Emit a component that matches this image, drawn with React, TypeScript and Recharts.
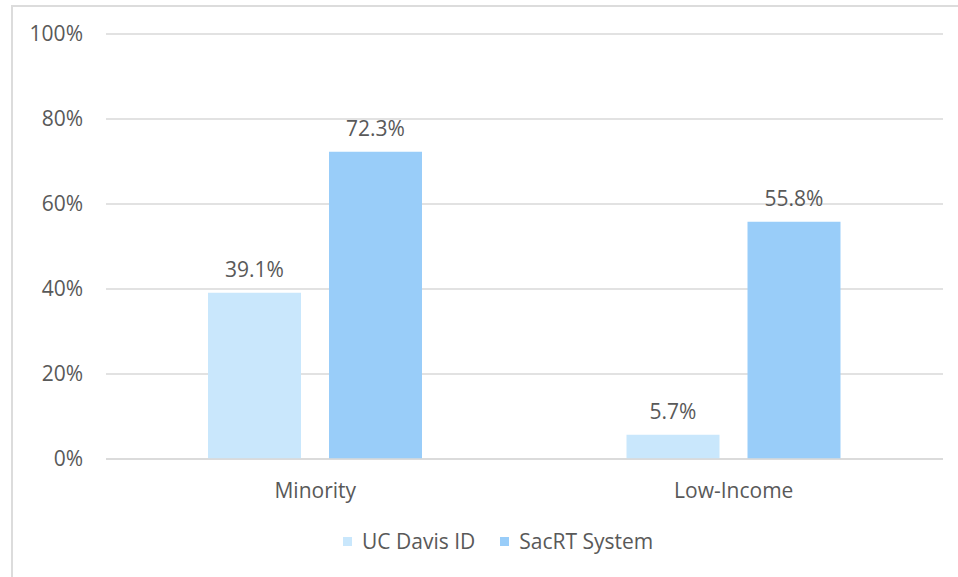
import { BarChart, Bar, XAxis, YAxis, CartesianGrid, Legend, LabelList } from 'recharts';

const categories = ['Minority', 'Low-Income'];
const ucDavisId = [39.1, 5.7];
const sacrtSystem = [72.3, 55.8];
const yTicks = [0, 20, 40, 60, 80, 100];

const series = [
  { key: 'ucDavis', name: 'UC Davis ID', color: '#c9e7fc' },
  { key: 'sacrt', name: 'SacRT System', color: '#99cdf9' },
];

const data = categories.map((name, i) => ({
  name,
  ucDavis: ucDavisId[i],
  sacrt: sacrtSystem[i],
}));

const FONT = '"Open Sans", sans-serif';
const TEXT = '#595959';
const FS = 21;

const LegendContent = () => (
  <div style={{ display: 'flex', alignItems: 'center', fontFamily: FONT, fontSize: FS, color: TEXT, lineHeight: '27px' }}>
    {series.map((s) => (
      <div key={s.key} style={{ display: 'flex', alignItems: 'center', marginRight: 25 }}>
        <span style={{ width: 9, height: 9, background: s.color, marginRight: 10, display: 'inline-block' }} />
        <span>{s.name}</span>
      </div>
    ))}
  </div>
);

export default function App() {
  return (
    <div style={{ position: 'absolute', left: 0, top: 0, width: 958, height: 577, background: '#fff', overflow: 'hidden' }}>
      <div
        style={{
          position: 'absolute',
          left: 11,
          top: 5,
          width: 960,
          height: 600,
          border: '2px solid #dcdcdc',
          boxSizing: 'border-box',
        }}
      />
      <BarChart
        width={958}
        height={577}
        data={data}
        margin={{ top: 34, right: 15, left: 0, bottom: 41 }}
        barSize={93}
        barGap={28}
        style={{ position: 'absolute', left: 0, top: 0 }}
      >
        <CartesianGrid vertical={false} stroke="#d9d9d9" strokeWidth={1.5} />
        <XAxis
          dataKey="name"
          height={50}
          axisLine={{ stroke: '#d9d9d9', strokeWidth: 1.5 }}
          tickLine={false}
          tickSize={0}
          tickMargin={24}
          tick={{ fill: TEXT, fontSize: FS, fontFamily: FONT }}
        />
        <YAxis
          width={106}
          domain={[0, 100]}
          ticks={yTicks}
          tickFormatter={(v) => `${v}%`}
          axisLine={false}
          tickLine={false}
          tickSize={0}
          tickMargin={23}
          tick={{ fill: TEXT, fontSize: FS, fontFamily: FONT }}
        />
        <Legend content={<LegendContent />} wrapperStyle={{ position: 'absolute', left: 343, top: 528, width: 'auto' }} />
        {series.map((s) => (
          <Bar key={s.key} dataKey={s.key} name={s.name} fill={s.color} isAnimationActive={false}>
            <LabelList
              dataKey={s.key}
              position="top"
              offset={16}
              formatter={(v: number) => `${v.toFixed(1)}%`}
              style={{ fill: TEXT, fontSize: FS, fontFamily: FONT }}
            />
          </Bar>
        ))}
      </BarChart>
    </div>
  );
}
